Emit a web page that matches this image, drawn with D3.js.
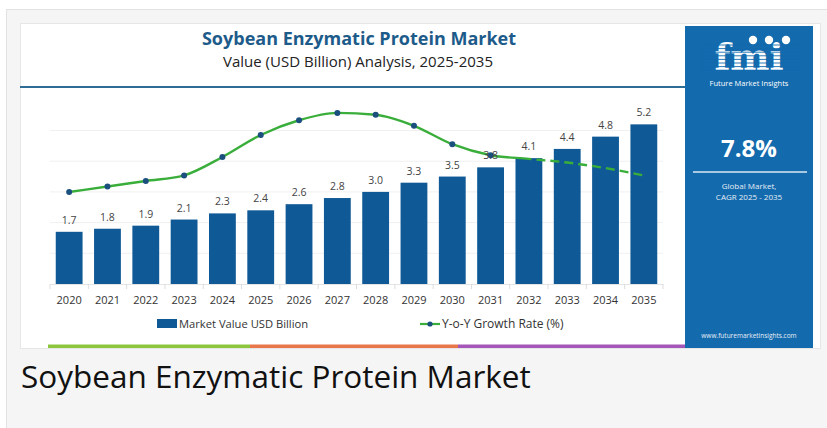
<!DOCTYPE html>
<html><head><meta charset="utf-8">
<script src="https://cdn.jsdelivr.net/npm/d3@7"></script>
<style>body{margin:0;background:#fff;} svg{display:block}</style>
</head><body><svg id="c" width="827" height="428"></svg>
<script>
// ---- data ----
const years = ["2020","2021","2022","2023","2024","2025","2026","2027","2028","2029","2030","2031","2032","2033","2034","2035"];
const marketValue = [1.7,1.8,1.9,2.1,2.3,2.4,2.6,2.8,3.0,3.3,3.5,3.8,4.1,4.4,4.8,5.2];
const growthRate = [5.0,5.3,5.6,5.9,6.9,8.1,8.9,9.3,9.2,8.6,7.6,7.0,6.8,6.6,6.3,5.9];
const valueTicks = [0,1,2,3,4,5];
const chartTitle = "Soybean Enzymatic Protein Market";
const chartSubtitle = "Value (USD Billion) Analysis, 2025-2035";
const legendLabels = ["Market Value USD Billion","Y-o-Y Growth Rate (%)"];
const cagrText = "7.8%";
const cagrLabel = ["Global Market,","CAGR 2025 - 2035"];
const caption = "Soybean Enzymatic Protein Market";

const svg = d3.select("#c");
const F = "'Open Sans', sans-serif";

// page frame
svg.append("rect").attr("x",0).attr("y",0).attr("width",827).attr("height",428).attr("fill","#ffffff");
svg.append("rect").attr("x",6.5).attr("y",9.5).attr("width",830).attr("height",430).attr("fill","#f5f5f5").attr("stroke","#e2e2e2");
// card
svg.append("rect").attr("x",20.5).attr("y",23.5).attr("width",800).attr("height",325).attr("fill","#fff").attr("stroke","#e6e6e6");

// title
svg.append("text").attr("x",359).attr("y",45).attr("text-anchor","middle").attr("font-family",F)
  .attr("font-weight",700).attr("font-size",18).attr("fill","#1d5b8a").text(chartTitle);
svg.append("text").attr("x",358).attr("y",67).attr("text-anchor","middle").attr("font-family",F)
  .attr("font-size",15).attr("fill","#222").text(chartSubtitle);
svg.append("line").attr("x1",20).attr("x2",686).attr("y1",87).attr("y2",87).attr("stroke","#2d6d96").attr("stroke-width",1.8);

// scales
const x = d3.scaleBand().domain(years).range([50,663]).paddingInner(0.3).paddingOuter(0.15);
const y = d3.scaleLinear().domain([0,5]).range([284,130.5]);
const y2 = d3.scaleLinear().domain([0,10]).range([284,100]);

// gridlines
svg.append("g").selectAll("line").data(valueTicks.slice(1)).join("line")
  .attr("x1",50).attr("x2",663).attr("y1",d=>y(d)).attr("y2",d=>y(d))
  .attr("stroke","#f0f0f0").attr("stroke-width",1);

// bars
svg.append("g").selectAll("rect").data(marketValue).join("rect")
  .attr("x",(d,i)=>x(years[i])).attr("width",x.bandwidth())
  .attr("y",d=>y(d)).attr("height",d=>y(0)-y(d)).attr("fill","#0f5a96");

// x axis
const xa = svg.append("g").attr("transform","translate(0,284)")
  .call(d3.axisBottom(x).tickSize(0).tickPadding(12));
xa.select(".domain").attr("stroke","#e4e4e4");
xa.selectAll("text").attr("font-family",F).attr("font-size",11).attr("fill","#333");
const step = x.step();
svg.append("g").selectAll("line").data(d3.range(years.length+1)).join("line")
  .attr("x1",i=>50+i*step).attr("x2",i=>50+i*step).attr("y1",284).attr("y2",289)
  .attr("stroke","#dcdcdc");

// line
const lineGen = d3.line().x((d,i)=>x(years[i])+x.bandwidth()/2).y(d=>y2(d)).curve(d3.curveMonotoneX);
const splitX = x(years[12])+x.bandwidth()/2;
const defs = svg.append("defs");
defs.append("clipPath").attr("id","cs").append("rect").attr("x",0).attr("y",0).attr("width",splitX).attr("height",428);
defs.append("clipPath").attr("id","cd").append("rect").attr("x",splitX).attr("y",0).attr("width",827-splitX).attr("height",428);
svg.append("path").datum(growthRate).attr("d",lineGen).attr("fill","none").attr("stroke","#3aae3a")
  .attr("stroke-width",2.4).attr("clip-path","url(#cs)");
svg.append("path").datum(growthRate).attr("d",lineGen).attr("fill","none").attr("stroke","#3aae3a")
  .attr("stroke-width",2.4).attr("stroke-dasharray","9,5").attr("clip-path","url(#cd)");
svg.append("g").selectAll("circle").data(growthRate.slice(0,12)).join("circle")
  .attr("cx",(d,i)=>x(years[i])+x.bandwidth()/2).attr("cy",d=>y2(d)).attr("r",3).attr("fill","#1b4f7e");

// value labels
svg.append("g").selectAll("text").data(marketValue).join("text")
  .attr("x",(d,i)=>x(years[i])+x.bandwidth()/2).attr("y",d=>y(d)-8)
  .attr("text-anchor","middle").attr("font-family",F).attr("font-size",10.5).attr("fill","#444")
  .text(d=>d.toFixed(1));

// legend
svg.append("rect").attr("x",157).attr("y",319).attr("width",20).attr("height",9).attr("fill","#0f5a96");
svg.append("text").attr("x",179).attr("y",328).attr("font-family",F).attr("font-size",11.2).attr("fill","#333").text(legendLabels[0]);
svg.append("line").attr("x1",420).attr("x2",440).attr("y1",324).attr("y2",324).attr("stroke","#3aae3a").attr("stroke-width",2.2);
svg.append("circle").attr("cx",430).attr("cy",324).attr("r",2.6).attr("fill","#1b4f7e");
svg.append("text").attr("x",442).attr("y",328).attr("font-family",F).attr("font-size",12).attr("fill","#333").text(legendLabels[1]);

// bottom strip
const strip = [["#8cc63f",48,250],["#e8774c",250,458],["#a457b8",458,685]];
svg.append("g").selectAll("rect").data(strip).join("rect")
  .attr("x",d=>d[1]).attr("width",d=>d[2]-d[1]).attr("y",344.5).attr("height",3.5).attr("fill",d=>d[0]);

// blue panel
const P = svg.append("g");
P.append("rect").attr("x",685).attr("y",26).attr("width",128).attr("height",322).attr("fill","#136aad");
P.append("text").attr("x",749).attr("y",70).attr("text-anchor","middle").attr("font-family","'DejaVu Serif', serif")
  .attr("font-weight",700).attr("font-size",37).attr("fill","#fff").text("fmi");
P.append("g").selectAll("line").data(d3.range(8)).join("line")
  .attr("x1",700).attr("x2",800).attr("y1",i=>45+i*3.6).attr("y2",i=>45+i*3.6).attr("stroke","#136aad").attr("stroke-width",0.9);
P.append("g").selectAll("circle").data([753,769,786]).join("circle")
  .attr("cx",d=>d).attr("cy",40).attr("r",4.2).attr("fill","#fff");
P.append("text").attr("x",749).attr("y",86).attr("text-anchor","middle").attr("font-family",F)
  .attr("font-size",7.5).attr("fill","#fff").text("Future Market Insights");
P.append("text").attr("x",749).attr("y",157).attr("text-anchor","middle").attr("font-family",F)
  .attr("font-weight",700).attr("font-size",24).attr("fill","#fff").text(cagrText);
P.append("line").attr("x1",693).attr("x2",807).attr("y1",172).attr("y2",172).attr("stroke","#dce8f4").attr("stroke-width",1.3);
P.selectAll("text.cg").data(cagrLabel).join("text").attr("class","cg")
  .attr("x",749).attr("y",(d,i)=>189+i*11).attr("text-anchor","middle").attr("font-family",F)
  .attr("font-size",8).attr("fill","#e6eef7").text(d=>d);
P.append("text").attr("x",749).attr("y",337.5).attr("text-anchor","middle").attr("font-family",F)
  .attr("font-size",6.5).attr("fill","#e6eef7").text("www.futuremarketinsights.com");

// caption
svg.append("text").attr("x",21).attr("y",388).attr("font-family",F).attr("font-size",31.5).attr("fill","#111").text(caption);
</script></body></html>
